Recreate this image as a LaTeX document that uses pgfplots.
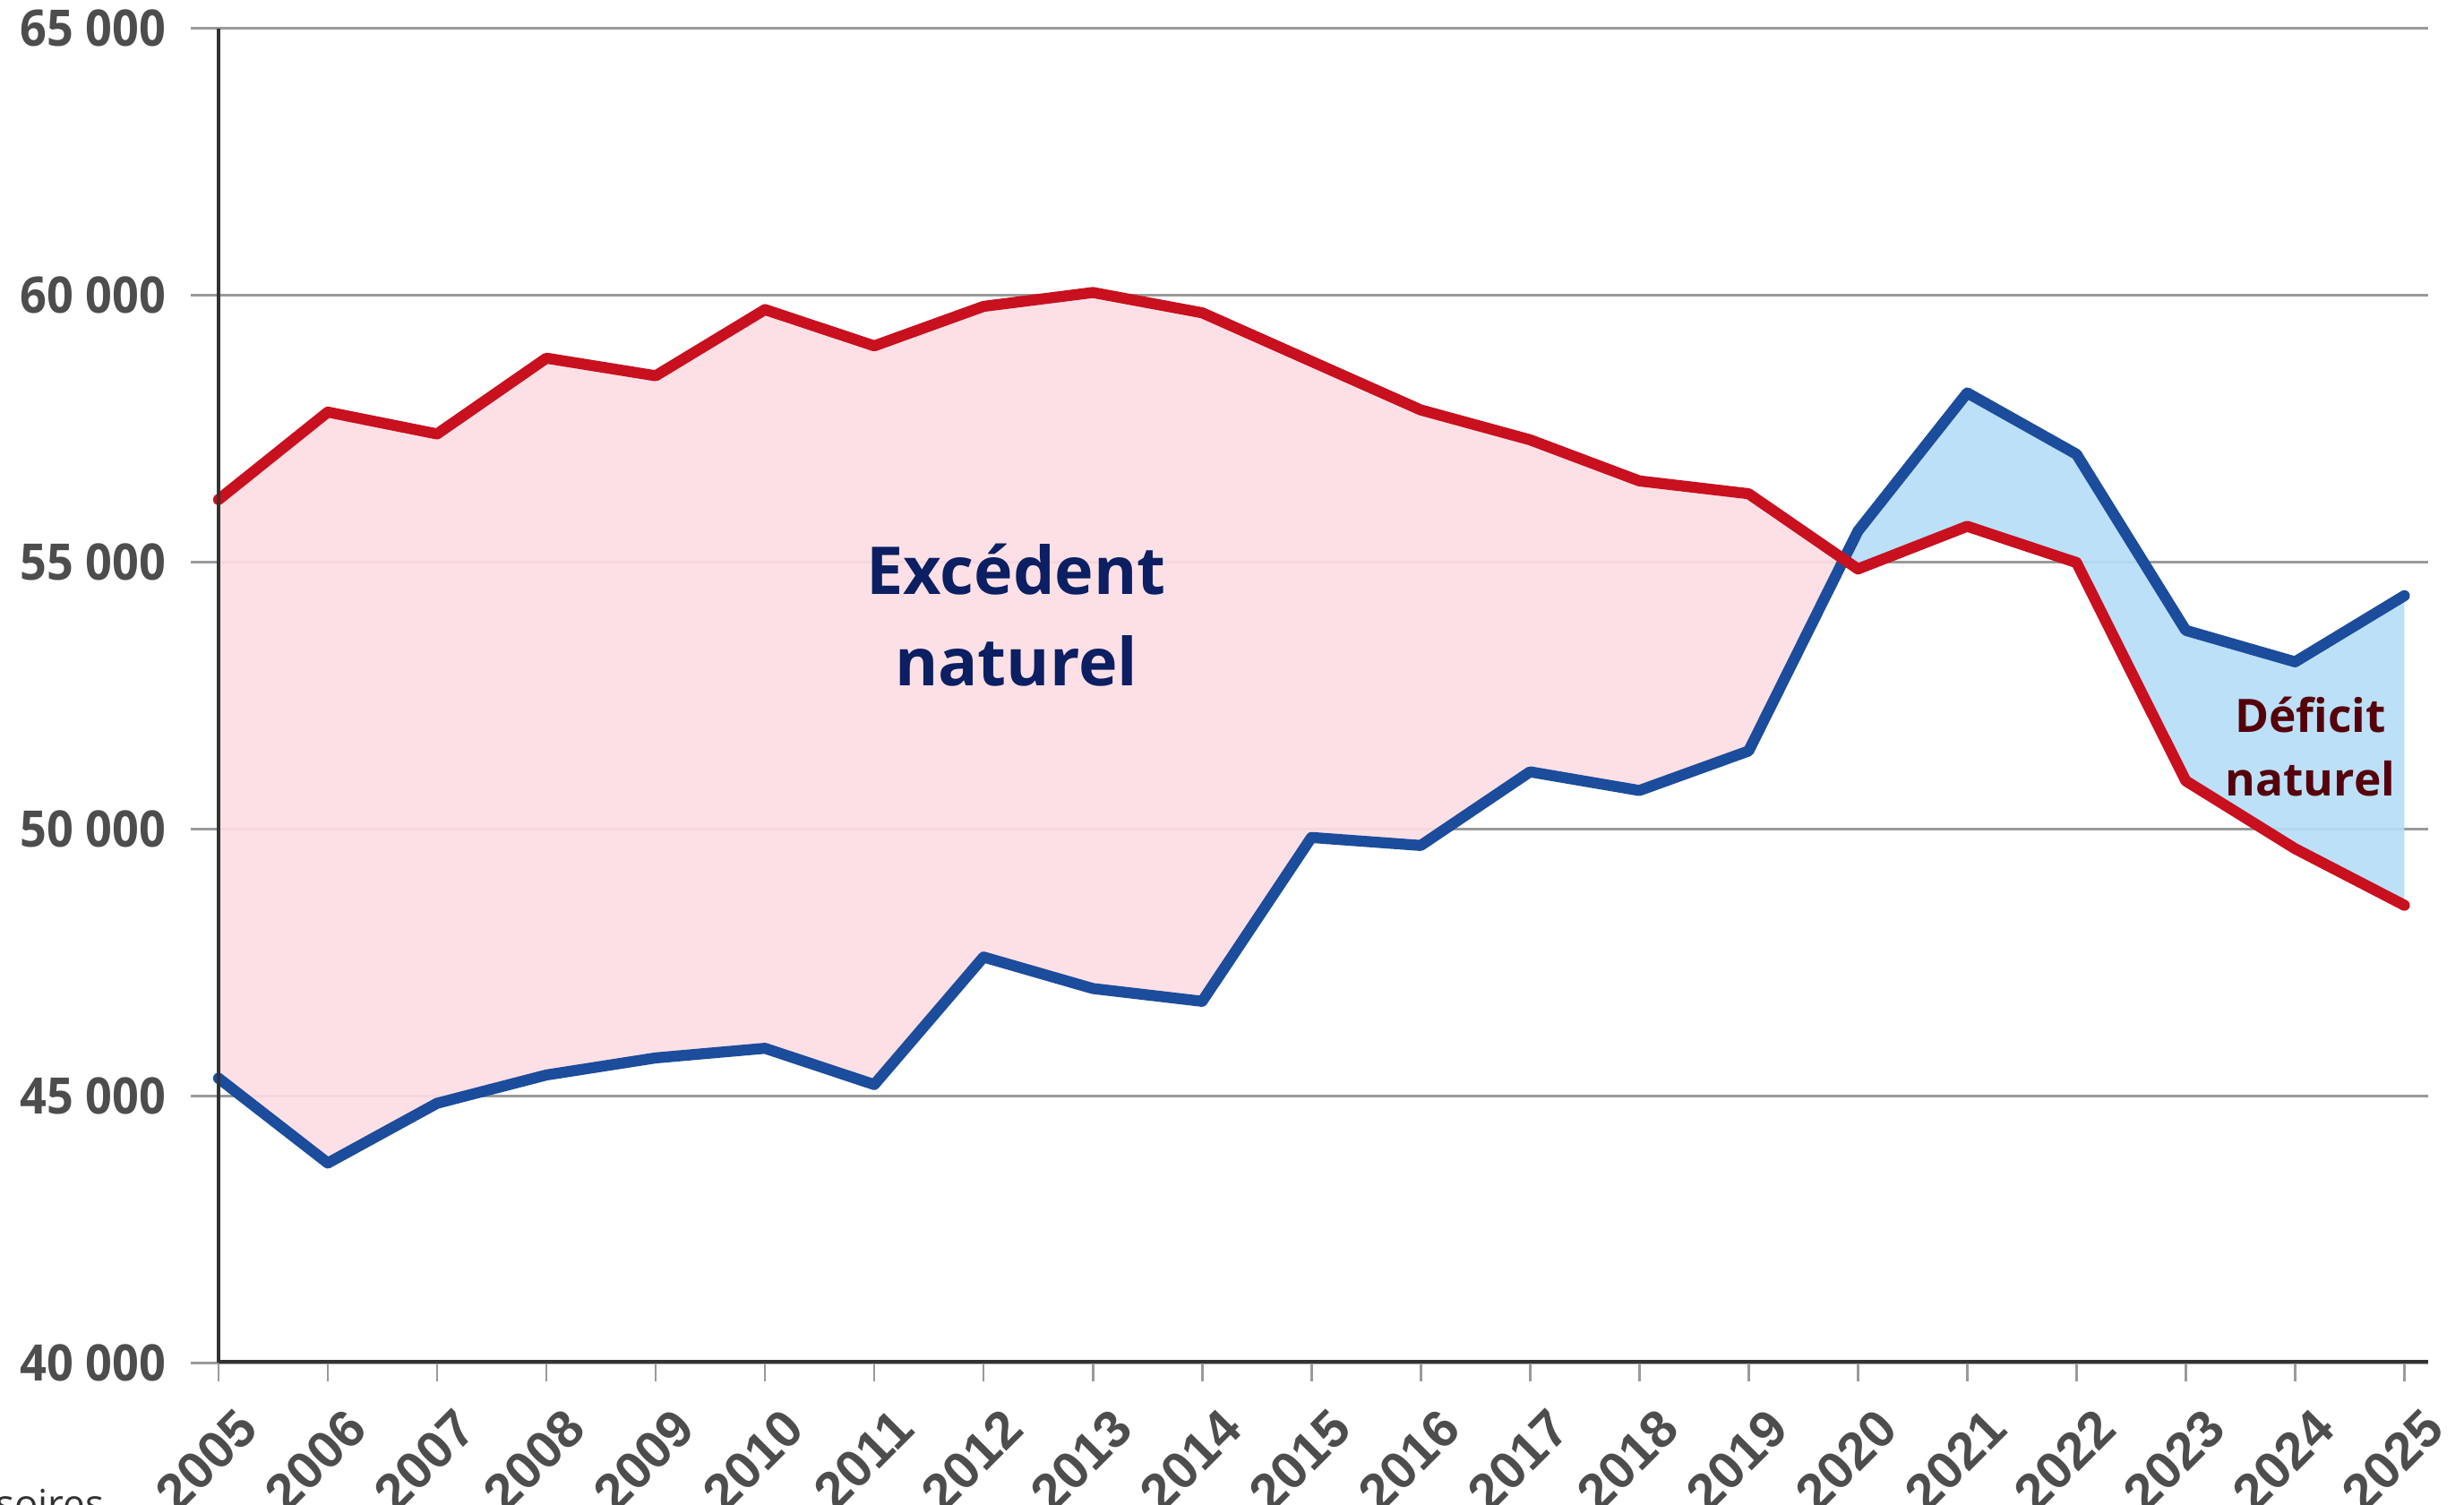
\documentclass[border=0pt]{standalone}
\usepackage{fontspec}
\setmainfont{Open Sans}
\newfontfamily\ylabfont{Open Sans}[FakeStretch=0.93]
\newfontfamily\xlabfont{Liberation Sans}
\usepackage{pgfplots}
\usepackage{pgfplotstable}
\pgfplotsset{compat=1.18}
\usepgfplotslibrary{fillbetween}
\usetikzlibrary{calc}

\definecolor{redline}{HTML}{C8101F}
\definecolor{blueline}{HTML}{1C4C9C}
\definecolor{pinkfill}{HTML}{FDDDE3}
\definecolor{bluefill}{HTML}{B5DDF7}
\definecolor{navytext}{HTML}{0B1F62}
\definecolor{darkredtext}{HTML}{55000A}
\definecolor{ticklab}{HTML}{4D4D4D}
\definecolor{gridgray}{HTML}{9A9A9A}
\definecolor{axisdark}{HTML}{333333}

% naissances
\pgfplotstableread{
year val
2005 56170
2006 57810
2007 57400
2008 58820
2009 58490
2010 59730
2011 59050
2012 59790
2013 60050
2014 59670
2015 58760
2016 57850
2017 57290
2018 56520
2019 56280
2020 54870
2021 55670
2022 54990
2023 50900
2024 49630
2025 48570
}\births

% décès
\pgfplotstableread{
year val
2005 45330
2006 43740
2007 44860
2008 45390
2009 45710
2010 45890
2011 45210
2012 47600
2013 47010
2014 46770
2015 49840
2016 49690
2017 51070
2018 50720
2019 51460
2020 55580
2021 58170
2022 57020
2023 53720
2024 53130
2025 54370
}\deaths

\begin{document}
\begin{tikzpicture}
\begin{axis}[
  set layers,
  scale only axis,
  width=427.1pt, height=254.7pt,
  xmin=2004.75, xmax=2025.22,
  ymin=40000, ymax=65000,
  axis x line*=bottom, axis y line*=left,
  y axis line style={draw=none},
  x axis line style={draw=none},
  xtick={2005,...,2025},
  xticklabel={\pgfmathtruncatemacro\yr{\tick+0.5}\yr},
  xticklabel style={font=\xlabfont\bfseries\fontsize{10}{10}\selectfont, text=ticklab,
    xshift=3.1pt, yshift=-4.4pt, rotate=45, anchor=north east, inner sep=0pt},
  ytick={40000,45000,...,65000},
  yticklabels={40 000,45 000,50 000,55 000,60 000,65 000},
  yticklabel style={font=\ylabfont\bfseries\fontsize{9.6}{9.6}\selectfont, text=ticklab,
    inner sep=0pt, xshift=-1pt},
  ymajorgrids,
  major grid style={draw=gridgray, line width=0.5pt},
  tick align=outside,
  major tick length=3.6pt,
  xtick style={draw=gridgray, line width=0.5pt},
  ytick style={draw=none},
]
\addplot[name path=B, blueline, line width=2.1pt, line join=round, line cap=round] table[x=year, y=val] {\deaths};
\addplot[name path=R, redline, line width=2.1pt, line join=round, line cap=round] table[x=year, y=val] {\births};
\addplot[fill=pinkfill, fill opacity=0.92] fill between[of=R and B, split,
  every segment no 1/.style={fill=bluefill}];

\draw[axisdark, line width=0.7pt] (axis cs:2005,40000) -- (axis cs:2005,65000);
\draw[axisdark, line width=1pt] (axis cs:2005,40000) -- (rel axis cs:1,0);

\node[font=\bfseries\fontsize{12.6}{17.4}\selectfont, text=navytext, align=center]
  at (axis cs:2012.3,54000) {Excédent\\naturel};
\node[font=\bfseries\fontsize{8.8}{12.3}\selectfont, text=darkredtext, align=center]
  at (axis cs:2024.14,51540) {Déficit\\naturel};

\coordinate (O) at (rel axis cs:0,0);
\end{axis}
\node[anchor=base east, inner sep=0pt, font=\fontsize{7.5}{7.5}\selectfont, text=axisdark]
  at ($(O)+(-16.4pt,-29.6pt)$) {Données provisoires};
\pgfresetboundingbox
\path[use as bounding box] ($(O)+(-36.5pt,-27pt)$) rectangle ($(O)+(433.9pt,260.1pt)$);
\end{tikzpicture}
\end{document}
